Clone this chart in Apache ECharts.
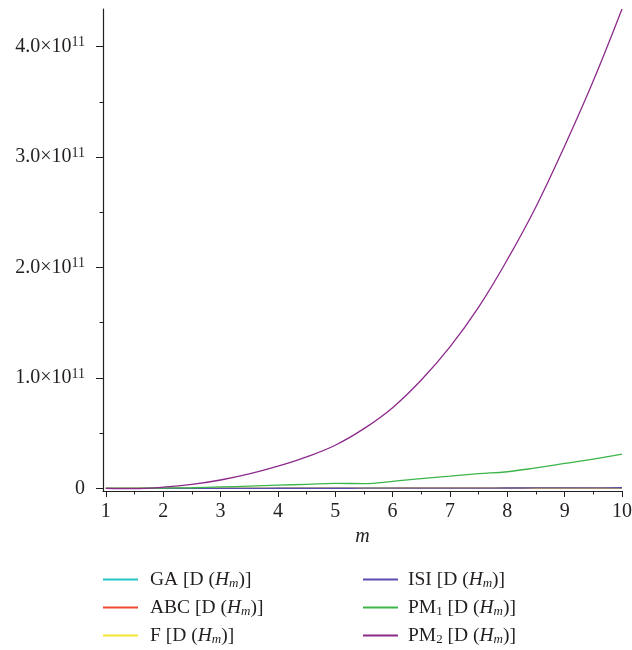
<!DOCTYPE html>
<html>
<head>
<meta charset="utf-8">
<style>
  html, body { margin: 0; padding: 0; background: #fff; }
  #main { width: 632px; height: 650px; }
</style>
<script src="https://cdn.jsdelivr.net/npm/echarts@6.0.0/dist/echarts.min.js"></script>
</head>
<body>
<div id="main"></div>
<script>
// m values (x axis)
var mValues = [1, 1.5, 2, 2.5, 3, 3.5, 4, 4.5, 5, 5.5, 6, 6.5, 7, 7.5, 8, 8.5, 9, 9.5, 10];

// index values (all tiny ones sit on the zero line)
var gaData  = [0, 0, 0, 1e6, 2e6, 4e6, 6e6, 9e6, 1.3e7, 1.8e7, 2.4e7, 3.1e7, 4e7, 5e7, 6.2e7, 7.5e7, 9e7, 1.07e8, 1.26e8];
var abcData = [0, 0, 0, 1e6, 2e6, 3e6, 5e6, 7e6, 1e7, 1.4e7, 1.9e7, 2.5e7, 3.2e7, 4e7, 5e7, 6e7, 7.2e7, 8.6e7, 1e8];
var fData   = [0, 0, 1e6, 3e6, 6e6, 1e7, 1.6e7, 2.4e7, 3.4e7, 4.6e7, 6e7, 7.7e7, 9.7e7, 1.2e8, 1.46e8, 1.75e8, 2.08e8, 2.45e8, 2.86e8];
var isiData = [0, 0, 1e6, 3e6, 7e6, 1.3e7, 2.2e7, 3.4e7, 5e7, 7e7, 9.5e7, 1.25e8, 1.6e8, 2e8, 2.5e8, 3e8, 3.6e8, 4.3e8, 5e8];
var pm1Data = [0, 0, 2e8, 5e8, 1.2e9, 2e9, 2.8e9, 3.6e9, 4.5e9, 4.2e9, 6.2e9, 8.8e9, 1.1e10, 1.32e10, 1.5e10, 1.85e10, 2.25e10, 2.65e10, 3.1e10];
var pm2Data = [0, -3e8, 1e9, 3.5e9, 7.5e9, 1.3e10, 2e10, 2.85e10, 3.9e10, 5.4e10, 7.3e10, 9.8e10, 1.28e11, 1.64e11, 2.07e11, 2.55e11, 3.1e11, 3.69e11, 4.34e11];

// axis ticks
var xMajor = [1, 2, 3, 4, 5, 6, 7, 8, 9, 10];
var xMinor = [1.5, 2.5, 3.5, 4.5, 5.5, 6.5, 7.5, 8.5, 9.5];
var yMajor = [0, 1e11, 2e11, 3e11, 4e11];
var yMinor = [5e10, 1.5e11, 2.5e11, 3.5e11];

var names = ['GA', 'ABC', 'F', 'ISI', 'PM1', 'PM2'];
var colors = ['#26c6c6', '#f04a30', '#f5e52a', '#5a4cb0', '#3cb54a', '#8c2a8c'];
var allData = [gaData, abcData, fData, isiData, pm1Data, pm2Data];

var serif = 'Liberation Serif';
var ink = '#231f20';
var rich = {
    n: { fontFamily: serif, fontSize: 19.5, lineHeight: 22, color: ink },
    i: { fontFamily: serif, fontSize: 19.5, lineHeight: 22, fontStyle: 'italic', color: ink },
    s: { fontFamily: serif, fontSize: 13, lineHeight: 12, fontStyle: 'italic', verticalAlign: 'bottom', color: ink },
    d: { fontFamily: serif, fontSize: 13, lineHeight: 12, verticalAlign: 'bottom', color: ink }
};

function legendLabel(name) {
    var head = '{n|' + name + '}';
    if (name === 'PM1' || name === 'PM2') head = '{n|PM}{d|' + name.slice(2) + '}';
    return head + '{n| [D (}{i|H}{s|m}{n|)]}';
}

var myChart = echarts.init(document.getElementById('main'));

var series = names.map(function (name, k) {
    return {
        name: name,
        type: 'line',
        xAxisIndex: 0,
        yAxisIndex: 0,
        showSymbol: false,
        smooth: 0.4,
        color: colors[k],
        lineStyle: { width: 1.3 },
        data: mValues.map(function (m, i) { return [m, allData[k][i]]; })
    };
});

var option = {
    animation: false,
    grid: { left: 103, right: 10, top: 9, bottom: 159, outerBoundsMode: 'none' },
    legend: [
        {
            data: names.slice(0, 3), orient: 'vertical', left: 103, top: 569.5, height: 80,
            padding: 0, itemWidth: 35, itemHeight: 2, icon: 'rect', itemGap: 7,
            formatter: legendLabel,
            textStyle: { rich: rich, padding: [0, 0, 0, 7] }
        },
        {
            data: names.slice(3), orient: 'vertical', left: 363, top: 569.5, height: 80,
            padding: 0, itemWidth: 35, itemHeight: 2, icon: 'rect', itemGap: 7,
            formatter: legendLabel,
            textStyle: { rich: rich, padding: [0, 0, 0, 5] }
        }
    ],
    xAxis: [
        {
            type: 'value', min: 0.95, max: 10, position: 'bottom',
            name: 'm', nameLocation: 'middle', nameGap: 35,
            nameTextStyle: { fontFamily: serif, fontSize: 20, fontStyle: 'italic', color: ink },
            axisLine: { onZero: false, lineStyle: { color: ink, width: 1.2 } },
            axisTick: { customValues: xMajor, length: 6, lineStyle: { color: ink } },
            axisLabel: { customValues: xMajor, margin: 11, fontFamily: serif, fontSize: 20, color: ink },
            splitLine: { show: false }
        },
        {
            type: 'value', min: 0.95, max: 10, position: 'bottom',
            axisLine: { show: false, onZero: false },
            axisTick: { customValues: xMinor, length: 3.5, lineStyle: { color: ink } },
            axisLabel: { show: false },
            splitLine: { show: false }
        }
    ],
    yAxis: [
        {
            type: 'value', min: -2.45e9, max: 4.34e11, position: 'left',
            axisLine: { show: true, onZero: false, lineStyle: { color: ink, width: 1.2 } },
            axisTick: { customValues: yMajor, length: 7, lineStyle: { color: ink } },
            axisLabel: {
                customValues: yMajor, margin: 18,
                formatter: function (v) {
                    if (v === 0) return '{n|0}';
                    return '{n|' + (v / 1e11).toFixed(1) + '×10}{sup|11}';
                },
                rich: {
                    n: { fontFamily: serif, fontSize: 20, lineHeight: 22, color: ink },
                    sup: { fontFamily: serif, fontSize: 14, lineHeight: 14, verticalAlign: 'top', color: ink }
                }
            },
            splitLine: { show: false }
        },
        {
            type: 'value', min: -2.45e9, max: 4.34e11, position: 'left',
            axisLine: { show: false, onZero: false },
            axisTick: { customValues: yMinor, length: 3.5, lineStyle: { color: ink } },
            axisLabel: { show: false },
            splitLine: { show: false }
        }
    ],
    series: series
};

myChart.setOption(option);
</script>
</body>
</html>
